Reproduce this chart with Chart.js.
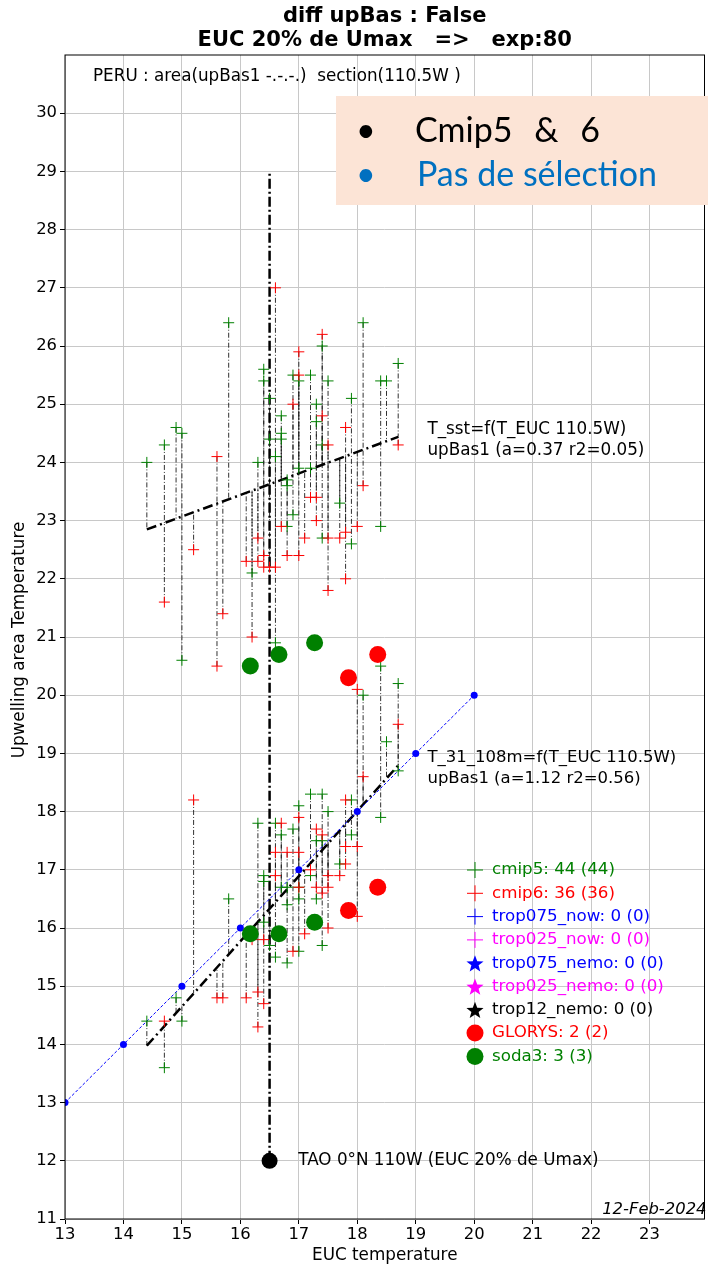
<!DOCTYPE html>
<html>
<head>
<meta charset="utf-8">
<script src="https://cdn.jsdelivr.net/npm/chart.js@4.4.1/dist/chart.umd.min.js"></script>
<style>
  html, body { margin: 0; padding: 0; background: #fff; }
  #wrap { width: 713px; height: 1269px; }
</style>
</head>
<body>
<div id="wrap"><canvas id="scatter" width="713" height="1269"></canvas></div>
<script>
// axis limits and tick labels
const X_MIN = 13, X_MAX = 23.94, Y_MIN = 11, Y_MAX = 31;
const xTickValues = [13, 14, 15, 16, 17, 18, 19, 20, 21, 22, 23];
const yTickValues = [11, 12, 13, 14, 15, 16, 17, 18, 19, 20, 21, 22, 23, 24, 25, 26, 27, 28, 29, 30];

// [T_EUC, T_sst] per model
const cmip5Sst = [
  [14.4, 24.0], [14.7, 24.3], [14.9, 24.6], [15.0, 24.5], [15.0, 20.6], [15.8, 26.4],
  [16.2, 22.1], [16.3, 24.0], [16.4, 25.6], [16.4, 25.4], [16.5, 25.1], [16.5, 24.4],
  [16.6, 24.1], [16.6, 20.9], [16.7, 24.8], [16.7, 24.5], [16.7, 24.4], [16.8, 23.7],
  [16.8, 23.6], [16.8, 22.9], [16.9, 25.5], [16.9, 23.1], [17.0, 25.4], [17.0, 23.9],
  [17.2, 25.5], [17.2, 23.9], [17.3, 25.0], [17.3, 24.7], [17.4, 26.0], [17.4, 24.3],
  [17.4, 22.7], [17.5, 25.4], [17.7, 23.3], [17.9, 25.1], [17.9, 22.6], [18.1, 26.4],
  [18.4, 25.4], [18.5, 25.4], [18.4, 22.9], [18.7, 25.7]
];
const cmip6Sst = [
  [14.7, 21.6], [15.2, 22.5], [15.6, 24.1], [15.6, 20.5], [15.7, 21.4], [16.1, 22.3],
  [16.2, 21.0], [16.3, 22.7], [16.3, 22.3], [16.4, 22.4], [16.4, 22.2], [16.5, 22.2],
  [16.6, 22.2], [16.6, 27.0], [16.7, 22.9], [16.8, 22.4], [16.9, 25.0], [17.0, 25.9],
  [17.0, 25.5], [17.0, 22.4], [17.1, 22.7], [17.2, 23.4], [17.3, 23.4], [17.3, 23.0],
  [17.4, 26.2], [17.4, 24.8], [17.5, 24.3], [17.5, 22.7], [17.5, 21.8], [17.7, 22.7],
  [17.8, 24.6], [17.8, 22.8], [17.8, 22.0], [18.0, 22.9], [18.1, 23.6], [18.7, 24.3]
];
// [T_EUC, T_31_108m] per model
const cmip5T31 = [
  [14.4, 14.4], [14.7, 13.6], [14.9, 14.8], [15.0, 14.4], [15.8, 16.5], [16.3, 17.8],
  [16.4, 16.9], [16.4, 16.8], [16.4, 16.1], [16.5, 15.7], [16.6, 17.8], [16.6, 15.5],
  [16.7, 17.6], [16.7, 16.7], [16.8, 16.7], [16.8, 16.4], [16.8, 15.4], [16.9, 17.7],
  [17.0, 18.1], [17.0, 16.7], [17.0, 16.5], [17.0, 15.6], [17.2, 18.3], [17.2, 16.9],
  [17.3, 17.5], [17.3, 16.5], [17.4, 18.3], [17.4, 17.5], [17.4, 15.7], [17.5, 18.0],
  [17.7, 17.1], [17.9, 18.2], [17.9, 17.6], [18.1, 20.0], [18.4, 20.5], [18.4, 17.9],
  [18.5, 19.2], [18.7, 20.2], [18.7, 18.7]
];
const cmip6T31 = [
  [14.7, 14.4], [15.2, 18.2], [15.6, 14.8], [15.7, 14.8], [16.1, 14.8], [16.2, 15.8],
  [16.3, 14.3], [16.3, 14.9], [16.4, 14.7], [16.4, 15.8], [16.7, 17.8], [16.6, 17.3],
  [16.6, 16.9], [16.8, 17.3], [16.9, 15.6], [17.0, 17.9], [17.0, 17.3], [17.0, 16.7],
  [17.1, 15.9], [17.2, 17.0], [17.3, 17.7], [17.3, 16.7], [17.4, 17.6], [17.4, 16.6],
  [17.5, 16.9], [17.5, 16.7], [17.5, 16.0], [17.7, 16.9], [17.8, 18.2], [17.8, 17.4],
  [17.8, 17.1], [18.0, 17.4], [18.0, 16.2], [18.0, 20.1], [18.1, 18.6], [18.7, 19.5]
];
const glorysSst = [[17.85, 20.3], [18.35, 20.7]];
const glorysT31 = [[17.85, 16.3], [18.35, 16.7]];
const soda3Sst = [[16.17, 20.5], [16.66, 20.7], [17.27, 20.9]];
const soda3T31 = [[16.17, 15.9], [16.66, 15.9], [17.27, 16.1]];
const oneToOne = [13, 14, 15, 16, 17, 18, 19, 20];
const tao = { x: 16.5, y: 12, top: 29 };

// linear fits (slope a, intercept b) over the model range
const fitSst = { a: 0.37, b: 17.52, from: 14.4, to: 18.7 };
const fitT31 = { a: 1.12, b: -2.15, from: 14.4, to: 18.7 };

const legendRows = [
  ['cmip5: 44 (44)', 'cross', '#008000'],
  ['cmip6: 36 (36)', 'cross', '#ff0000'],
  ['trop075_now: 0 (0)', 'cross', '#0000ff'],
  ['trop025_now: 0 (0)', 'cross', '#ff00ff'],
  ['trop075_nemo: 0 (0)', 'star', '#0000ff'],
  ['trop025_nemo: 0 (0)', 'star', '#ff00ff'],
  ['trop12_nemo: 0 (0)', 'star', '#000000'],
  ['GLORYS: 2 (2)', 'dot', '#ff0000'],
  ['soda3: 3 (3)', 'dot', '#008000']
];

const FONT = 'DejaVu Sans';
const toXY = pts => pts.map(([x, y]) => ({ x, y }));
const fitAt = (fit, x) => fit.a * x + fit.b;

function residuals(points, fit) {
  const out = [];
  points.forEach(([x, y]) => {
    out.push({ x, y }, { x, y: fitAt(fit, x) }, { x, y: null });
  });
  return out;
}

const residualStyle = {
  showLine: true, pointRadius: 0, spanGaps: false,
  borderColor: '#1a1a1a', borderWidth: 0.9, borderDash: [5, 2, 1, 2], order: 9
};

const datasets = [
  { ...residualStyle, data: residuals(cmip5Sst.concat(cmip6Sst), fitSst) },
  { ...residualStyle, data: residuals(cmip5T31.concat(cmip6T31), fitT31) },
  {
    data: [fitSst.from, fitSst.to].map(x => ({ x, y: fitAt(fitSst, x) })),
    showLine: true, pointRadius: 0, borderColor: '#000', borderWidth: 2.5,
    borderDash: [10, 4, 2, 4], order: 6
  },
  {
    data: [fitT31.from, fitT31.to].map(x => ({ x, y: fitAt(fitT31, x) })),
    showLine: true, pointRadius: 0, borderColor: '#000', borderWidth: 2.5,
    borderDash: [10, 4, 2, 4], order: 6
  },
  {
    data: [{ x: tao.x, y: tao.y }, { x: tao.x, y: tao.top }],
    showLine: true, pointRadius: 0, borderColor: '#000', borderWidth: 2.5,
    borderDash: [10, 3, 2, 3], order: 7
  },
  {
    data: oneToOne.map(v => ({ x: v, y: v })),
    showLine: true, borderColor: '#0000ff', borderWidth: 1, borderDash: [3, 2],
    pointRadius: 3.5, pointBackgroundColor: '#0000ff', pointBorderWidth: 0, order: 5
  },
  {
    data: toXY(cmip5Sst.concat(cmip5T31)), pointStyle: 'cross', pointRadius: 5.5,
    pointBorderColor: '#008000', pointBorderWidth: 1, order: 4
  },
  {
    data: toXY(cmip6Sst.concat(cmip6T31)), pointStyle: 'cross', pointRadius: 5.5,
    pointBorderColor: '#ff0000', pointBorderWidth: 1, order: 3
  },
  {
    data: toXY(glorysSst.concat(glorysT31)), pointRadius: 8.5,
    pointBackgroundColor: '#ff0000', pointBorderWidth: 0, order: 2
  },
  {
    data: toXY(soda3Sst.concat(soda3T31)), pointRadius: 8.5,
    pointBackgroundColor: '#008000', pointBorderWidth: 0, order: 2
  },
  {
    data: [{ x: tao.x, y: tao.y }], pointRadius: 8,
    pointBackgroundColor: '#000', pointBorderWidth: 0, order: 1
  }
];

function drawStar(ctx, cx, cy, r, color) {
  ctx.beginPath();
  for (let i = 0; i < 10; i++) {
    const rad = i % 2 ? r * 0.42 : r;
    const ang = -Math.PI / 2 + i * Math.PI / 5;
    ctx.lineTo(cx + rad * Math.cos(ang), cy + rad * Math.sin(ang));
  }
  ctx.closePath();
  ctx.fillStyle = color;
  ctx.fill();
}

// titles, notes, legend and the frame
const decorations = {
  id: 'decorations',
  afterDraw(chart) {
    const { ctx, chartArea: area, scales: { x, y } } = chart;
    ctx.save();

    ctx.strokeStyle = '#000';
    ctx.lineWidth = 1;
    ctx.setLineDash([]);
    ctx.strokeRect(area.left, area.top, area.right - area.left, area.bottom - area.top);

    ctx.fillStyle = '#000';
    ctx.textAlign = 'center';
    ctx.textBaseline = 'middle';
    ctx.font = `bold 21px ${FONT}`;
    const mid = (area.left + area.right) / 2;
    ctx.fillText('diff upBas : False', mid, 17);
    ctx.fillText('EUC 20% de Umax   =>   exp:80', mid, 41);

    ctx.font = `16.8px ${FONT}`;
    ctx.fillText('EUC temperature', mid, 1256);
    ctx.save();
    ctx.translate(20, (area.top + area.bottom) / 2 + 3);
    ctx.rotate(-Math.PI / 2);
    ctx.fillText('Upwelling area Temperature', 0, 0);
    ctx.restore();

    ctx.textAlign = 'left';
    ctx.font = `16.8px ${FONT}`;
    ctx.fillText('PERU : area(upBas1 -.-.-.)  section(110.5W )', 93, 77);

    ctx.fillText('T_sst=f(T_EUC 110.5W)', x.getPixelForValue(19.2), y.getPixelForValue(24.56));
    ctx.fillText('upBas1 (a=0.37 r2=0.05)', x.getPixelForValue(19.2), y.getPixelForValue(24.2));
    ctx.font = `16.5px ${FONT}`;
    ctx.fillText('T_31_108m=f(T_EUC 110.5W)', x.getPixelForValue(19.2), y.getPixelForValue(18.92));
    ctx.fillText('upBas1 (a=1.12 r2=0.56)', x.getPixelForValue(19.2), y.getPixelForValue(18.56));
    ctx.font = `16.8px ${FONT}`;
    ctx.fillText('TAO 0°N 110W (EUC 20% de Umax)', x.getPixelForValue(16.99), y.getPixelForValue(tao.y));

    ctx.textAlign = 'right';
    ctx.font = `italic 16.4px ${FONT}`;
    ctx.fillText('12-Feb-2024', area.right + 2, 1210);

    // legend
    ctx.textAlign = 'left';
    ctx.font = `16.7px ${FONT}`;
    legendRows.forEach(([label, mark, color], i) => {
      const cy = 870 + i * 23.3;
      const cx = 475;
      if (mark === 'cross') {
        ctx.strokeStyle = color;
        ctx.lineWidth = 1;
        ctx.beginPath();
        ctx.moveTo(cx - 8, cy); ctx.lineTo(cx + 8, cy);
        ctx.moveTo(cx, cy - 8); ctx.lineTo(cx, cy + 8);
        ctx.stroke();
      } else if (mark === 'star') {
        drawStar(ctx, cx, cy + 1, 9, color);
      } else {
        ctx.fillStyle = color;
        ctx.beginPath();
        ctx.arc(cx, cy, 8.5, 0, Math.PI * 2);
        ctx.fill();
      }
      ctx.fillStyle = color;
      ctx.fillText(label, 492, cy);
    });

    // note box
    ctx.fillStyle = '#fce4d6';
    ctx.fillRect(336, 96, 372, 109);
    ctx.font = `34px Lato`;
    ctx.fillStyle = '#000';
    ctx.fillText('•', 356, 131);
    ctx.wordSpacing = '13px';
    ctx.fillText('Cmip5 & 6', 415, 131);
    ctx.wordSpacing = '0px';
    ctx.fillStyle = '#0070c0';
    ctx.fillText('•', 356, 175);
    ctx.fillText('Pas de sélection', 417, 175);

    ctx.restore();
  }
};

Chart.defaults.font.family = FONT;
Chart.defaults.color = '#000';

new Chart(document.getElementById('scatter'), {
  type: 'scatter',
  data: { datasets },
  plugins: [decorations],
  options: {
    responsive: false,
    animation: false,
    events: [],
    layout: { padding: { top: 55, right: 3, left: 0, bottom: 0 } },
    plugins: { legend: { display: false }, title: { display: false }, tooltip: { enabled: false } },
    scales: {
      x: {
        type: 'linear', min: X_MIN, max: X_MAX,
        ticks: { font: { size: 16.4 }, color: '#000', padding: 1, maxRotation: 0 },
        grid: { color: '#c8c8c8', lineWidth: 1, tickLength: 5, tickColor: '#000' },
        border: { display: false },
        afterBuildTicks: s => { s.ticks = xTickValues.map(value => ({ value })); },
        afterFit: s => { s.height = 50; }
      },
      y: {
        type: 'linear', min: Y_MIN, max: Y_MAX,
        ticks: { font: { size: 16.4 }, color: '#000', padding: 3 },
        grid: { color: '#c8c8c8', lineWidth: 1, tickLength: 5, tickColor: '#000' },
        border: { display: false },
        afterBuildTicks: s => { s.ticks = yTickValues.map(value => ({ value })); },
        afterFit: s => { s.width = 65; }
      }
    }
  }
});
</script>
</body>
</html>
